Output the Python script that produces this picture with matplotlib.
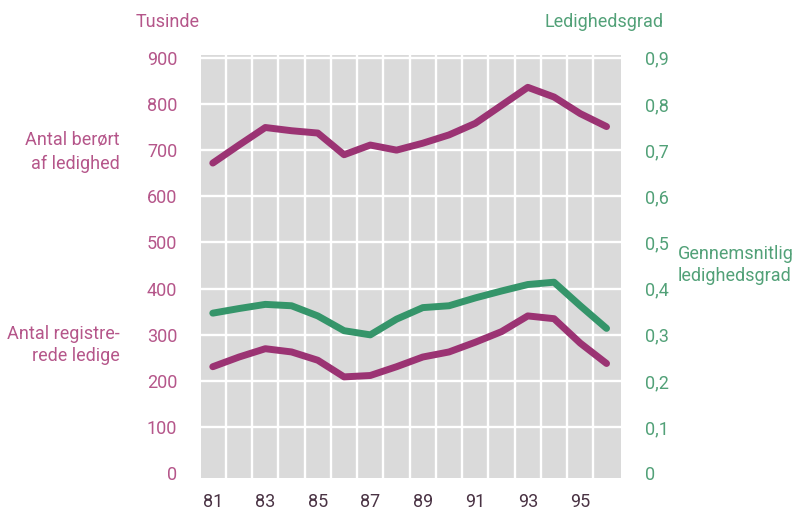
import numpy as np
import matplotlib
matplotlib.use('Agg')
import matplotlib.pyplot as plt

plt.rcParams['font.family'] = ['Roboto', 'DejaVu Sans']

# data
years = [81, 82, 83, 84, 85, 86, 87, 88, 89, 90, 91, 92, 93, 94, 95, 96]
beroert = [672, 711, 749, 742, 737, 690, 711, 700, 715, 733, 758, 797, 836, 815, 779, 751]
registrerede = [231, 252, 270, 263, 245, 209, 212, 231, 252, 263, 284, 307, 341, 335, 282, 238]
ledighedsgrad = [0.347, 0.357, 0.366, 0.363, 0.341, 0.309, 0.300, 0.334, 0.359, 0.363,
                 0.380, 0.395, 0.409, 0.414, 0.363, 0.314]

xticks = [81, 83, 85, 87, 89, 91, 93, 95]
left_ticks = [0, 100, 200, 300, 400, 500, 600, 700, 800, 900]
right_ticks = [0, 0.1, 0.2, 0.3, 0.4, 0.5, 0.6, 0.7, 0.8, 0.9]

magenta = '#9b3373'
magenta_txt = '#b5568a'
green = '#35956a'
green_txt = '#52a178'
fs = 13

fig = plt.figure(figsize=(8.02, 5.14), dpi=100)
ax = fig.add_axes([0.2506, 0.070, 0.5237, 0.823])
ax.set_facecolor('#dadada')

ax.set_xlim(80.55, 96.55)
ax.set_ylim(-10, 906)

# white grid: between years and every 100
for x in np.arange(81.5, 96.5, 1):
    ax.axvline(x, color='white', lw=1.7, zorder=1)
for y in left_ticks[1:]:
    ax.axhline(y, color='white', lw=1.7, zorder=1)

ax.plot(years, beroert, color=magenta, lw=5, solid_capstyle='round', zorder=3)
ax.plot(years, registrerede, color=magenta, lw=5, solid_capstyle='round', zorder=3)

ax2 = ax.twinx()
ax2.set_ylim(-0.010, 0.906)
ax2.plot(years, ledighedsgrad, color=green, lw=5, solid_capstyle='round', zorder=3)

for s in list(ax.spines.values()) + list(ax2.spines.values()):
    s.set_visible(False)

ax.set_xticks(xticks)
ax.set_xticklabels([str(v) for v in xticks], fontsize=fs, color='#4a3344')
ax.set_yticks(left_ticks)
ax.set_yticklabels([str(v) for v in left_ticks], fontsize=fs, color=magenta_txt)
ax2.set_yticks(right_ticks)
ax2.set_yticklabels(['0'] + [f'0,{i}' for i in range(1, 10)], fontsize=fs, color=green_txt)
ax.tick_params(axis='both', length=0)
ax.tick_params(axis='y', pad=17)
ax.tick_params(axis='x', pad=11)
ax2.tick_params(axis='y', length=0, pad=17)

fig.text(200 / 802, 1 - 22 / 514, 'Tusinde', ha='right', va='center',
         fontsize=fs, color=magenta_txt)
fig.text(663 / 802, 1 - 22 / 514, 'Ledighedsgrad', ha='right', va='center',
         fontsize=fs, color=green_txt)
fig.text(120 / 802, 1 - 152 / 514, 'Antal berørt\naf ledighed', ha='right', va='center',
         fontsize=fs, color=magenta_txt, linespacing=1.35)
fig.text(120 / 802, 1 - 345 / 514, 'Antal registre-\nrede ledige', ha='right', va='center',
         fontsize=fs, color=magenta_txt, linespacing=1.35)
fig.text(678 / 802, 1 - 265 / 514, 'Gennemsnitlig\nledighedsgrad', ha='left', va='center',
         fontsize=fs, color=green_txt, linespacing=1.35)

fig.savefig('out.png', dpi=100)
